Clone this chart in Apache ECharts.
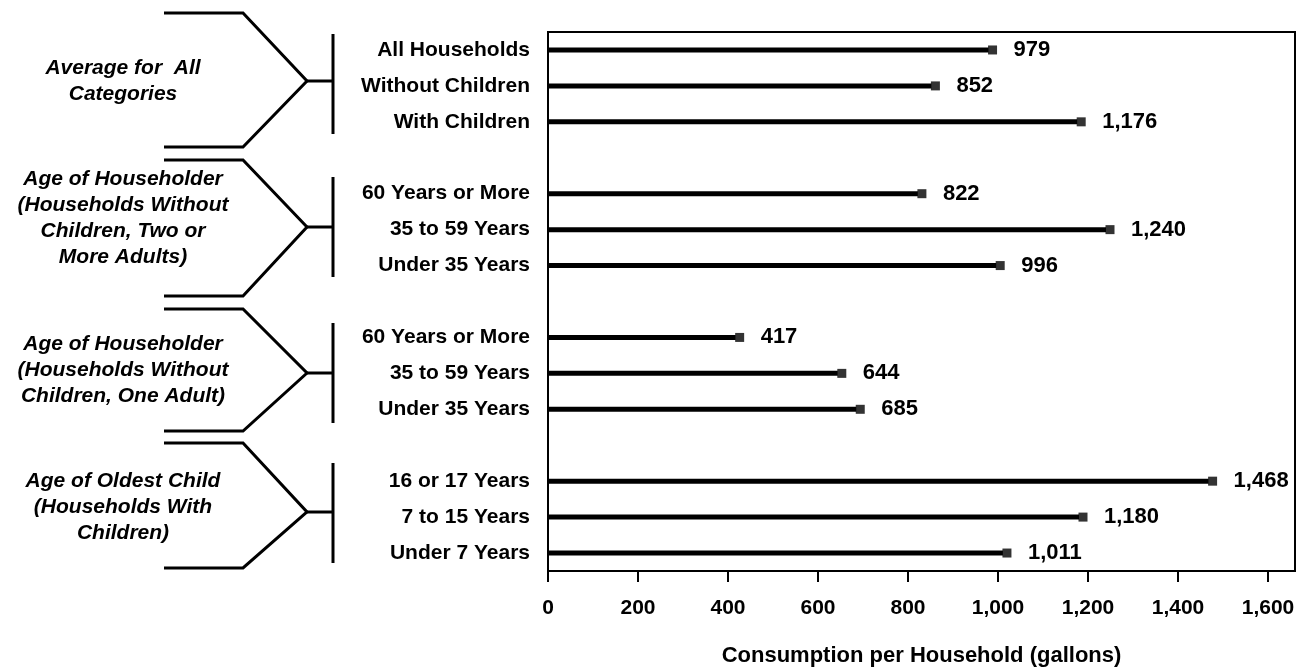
<!DOCTYPE html>
<html>
<head>
<meta charset="utf-8">
<title>Consumption per Household</title>
<script src="https://cdn.jsdelivr.net/npm/echarts@6.0.0/dist/echarts.min.js"></script>
<style>
  html, body { margin: 0; padding: 0; background: #fff; }
  #chart { width: 1300px; height: 667px; }
</style>
</head>
<body>
<div id="chart"></div>
<script>
// rows top to bottom, blank entries are the gaps between groups
const categories = [
  'All Households', 'Without Children', 'With Children', '',
  '60 Years or More', '35 to 59 Years', 'Under 35 Years', '',
  '60 Years or More', '35 to 59 Years', 'Under 35 Years', '',
  '16 or 17 Years', '7 to 15 Years', 'Under 7 Years'
]
// gallons per household
const consumption = [
  979, 852, 1176, null,
  822, 1240, 996, null,
  417, 644, 685, null,
  1468, 1180, 1011
]
const xTicks = [0, 200, 400, 600, 800, 1000, 1200, 1400, 1600]

const groupLabels = [
  ['Average for  All', 'Categories'],
  ['Age of Householder', '(Households Without', 'Children, Two or', 'More Adults)'],
  ['Age of Householder', '(Households Without', 'Children, One Adult)'],
  ['Age of Oldest Child', '(Households With', 'Children)']
]

// bracket shapes on the left (pixel layout)
const brackets = [
  { top: 13, apex: 81, bottom: 147, barTop: 34, barBottom: 134, textY: 81 },
  { top: 160, apex: 227, bottom: 296, barTop: 177, barBottom: 277, textY: 218 },
  { top: 309, apex: 373, bottom: 431, barTop: 323, barBottom: 423, textY: 370 },
  { top: 443, apex: 512, bottom: 568, barTop: 463, barBottom: 563, textY: 507 }
]

const font = '"Liberation Sans", Arial, Helvetica, sans-serif'
const fmt = (v) => Number(v).toLocaleString('en-US')

const graphics = []
brackets.forEach((b, i) => {
  graphics.push({
    type: 'polyline',
    silent: true,
    shape: { points: [[164, b.top], [243, b.top], [307, b.apex], [243, b.bottom], [164, b.bottom]] },
    style: { stroke: '#000', lineWidth: 3, fill: null }
  })
  graphics.push({
    type: 'line',
    silent: true,
    shape: { x1: 307, y1: b.apex, x2: 333, y2: b.apex },
    style: { stroke: '#000', lineWidth: 3 }
  })
  graphics.push({
    type: 'line',
    silent: true,
    shape: { x1: 333, y1: b.barTop, x2: 333, y2: b.barBottom },
    style: { stroke: '#000', lineWidth: 3 }
  })
  graphics.push({
    type: 'text',
    silent: true,
    style: {
      text: groupLabels[i].join('\n'),
      x: 123,
      y: b.textY,
      align: 'center',
      verticalAlign: 'middle',
      fontSize: 21,
      fontStyle: 'italic',
      fontWeight: 'bold',
      fontFamily: font,
      lineHeight: 26,
      fill: '#000'
    }
  })
})

const chart = echarts.init(document.getElementById('chart'))
chart.setOption({
  animation: false,
  backgroundColor: '#fff',
  textStyle: { fontFamily: font, color: '#000', fontWeight: 'bold' },
  grid: {
    left: 548,
    right: 5,
    top: 32,
    bottom: 96,
    outerBoundsMode: 'none',
    containLabel: false,
    show: true,
    borderColor: '#000',
    borderWidth: 2
  },
  xAxis: {
    type: 'value',
    min: 0,
    max: 1660,
    name: 'Consumption per Household (gallons)',
    nameLocation: 'middle',
    nameGap: 74,
    nameTextStyle: { fontSize: 22, color: '#000', fontWeight: 'bold', fontFamily: font },
    axisLine: { show: true, lineStyle: { color: '#000', width: 2 } },
    axisTick: { show: true, length: 11, customValues: xTicks, lineStyle: { color: '#000', width: 2 } },
    axisLabel: { customValues: xTicks, margin: 27, fontSize: 21, fontWeight: 'bold', color: '#000', formatter: fmt },
    splitLine: { show: false }
  },
  yAxis: {
    type: 'category',
    data: categories,
    inverse: true,
    axisLine: { show: true, lineStyle: { color: '#000', width: 2 } },
    axisTick: { show: false },
    axisLabel: { margin: 18, fontSize: 21, fontWeight: 'bold', color: '#000' },
    splitLine: { show: false }
  },
  series: [
    {
      type: 'bar',
      data: consumption,
      barWidth: 5,
      silent: true,
      itemStyle: { color: '#000' },
      label: {
        show: true,
        position: 'right',
        distance: 25,
        fontSize: 22,
        fontWeight: 'bold',
        color: '#000',
        formatter: (p) => fmt(p.value)
      }
    },
    {
      type: 'scatter',
      silent: true,
      data: consumption.map((v, i) => [v, i]).filter((d) => d[0] != null),
      symbol: 'rect',
      symbolSize: 9,
      symbolOffset: [4, 0],
      itemStyle: { color: '#000' },
      z: 3
    }
  ],
  graphic: graphics
})

window.addEventListener('resize', () => chart.resize())
</script>
</body>
</html>
